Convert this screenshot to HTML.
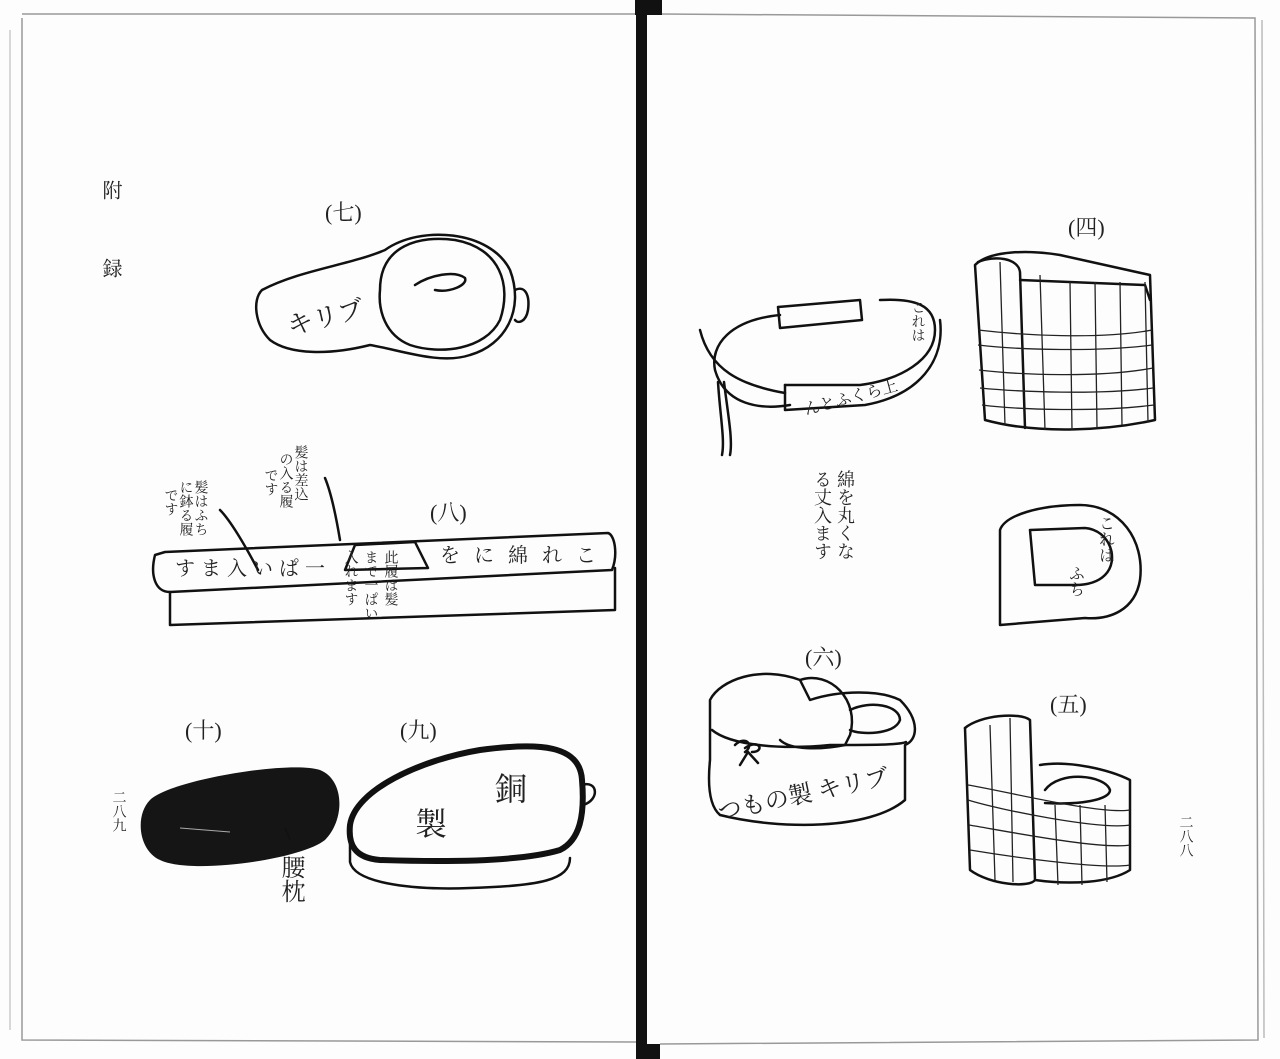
<!DOCTYPE html>
<html><head><meta charset="utf-8"><style>
html,body{margin:0;padding:0;background:#fff;}
svg{display:block}
text{font-family:"Liberation Serif","Noto Serif CJK SC","Noto Sans CJK JP",serif;fill:#222}
</style></head><body>
<svg width="1280" height="1059" viewBox="0 0 1280 1059" xmlns="http://www.w3.org/2000/svg">
<rect width="1280" height="1059" fill="#fdfdfd"/>
<g stroke="#999" fill="none" stroke-width="1.5">
<path d="M22 18 L22 1040 L636 1042"/>
<path d="M22 14 L636 14"/>
<path d="M660 14 L1255 18 L1258 1040 L660 1044"/>
<path d="M1262 20 L1264 1038" stroke="#bbb"/>
<path d="M10 30 L10 1030" stroke="#ccc"/>
</g>
<rect x="636" y="0" width="11" height="1059" fill="#111"/>
<rect x="635" y="0" width="27" height="15" fill="#111"/>
<rect x="640" y="1044" width="20" height="15" fill="#111"/>

<g stroke="#111" stroke-width="2.5" fill="none" stroke-linecap="round" stroke-linejoin="round">
<path d="M262 290 C300 270 350 265 385 250 C420 225 490 230 510 270 C525 310 505 345 470 355 C440 365 400 350 370 345 C330 355 290 355 270 340 C255 325 252 300 262 290Z"/>
<path d="M380 290 C380 245 420 235 455 240 C500 248 512 285 500 320 C485 350 440 355 410 345 C385 335 378 310 380 290Z"/>
<path d="M415 285 C430 275 455 270 465 278 C468 285 450 293 435 290"/>
<path d="M515 290 C525 285 530 295 528 310 C526 322 518 324 515 320"/>
<path d="M155 555 L165 552 L608 533 C615 535 618 555 612 570 L170 592 C155 592 150 575 155 555Z"/>
<path d="M170 592 L170 625 L615 610 L615 568"/>
<path d="M345 570 L355 545 L415 542 L428 568 Z"/>
<path d="M340 540 C335 510 330 490 325 478"/>
<path d="M258 570 C245 545 230 520 220 510"/>
<path d="M350 825 C355 790 420 760 480 750 C540 742 580 745 582 780 C585 815 580 840 560 850 C520 862 440 862 380 860 C355 858 348 845 350 825Z" stroke-width="6"/>
<path d="M350 830 L350 862 C355 885 420 890 470 888 C540 886 570 880 570 858"/>
<path d="M582 785 C598 780 600 800 583 805"/>
</g>
<path d="M150 800 C170 780 290 760 320 770 C345 780 345 820 325 840 C300 860 190 875 160 860 C138 850 135 815 150 800Z" fill="#151515"/>
<line x1="180" y1="828" x2="230" y2="832" stroke="#aaa" stroke-width="1"/>
<line x1="285" y1="828" x2="290" y2="840" stroke="#111" stroke-width="1.5"/>

<g stroke="#111" stroke-width="2.5" fill="none" stroke-linecap="round" stroke-linejoin="round">
<path d="M780 315 C730 320 710 345 715 370 C725 405 760 410 790 405"/>
<path d="M778 307 L860 300 L862 320 L780 328Z"/>
<path d="M785 385 L860 385 C900 380 935 360 935 330 C935 305 915 298 880 300"/>
<path d="M785 385 L785 410 L865 405 C920 395 945 360 940 320"/>
<path d="M718 382 C720 415 725 440 722 455"/>
<path d="M724 382 C728 415 733 440 730 455"/>
<path d="M700 330 C710 370 740 385 785 393"/>
<path d="M975 265 C990 250 1030 250 1060 255 L1150 275 L1155 420 C1110 430 1040 435 985 420 L975 265Z"/>
<path d="M978 262 C995 255 1018 258 1020 272 L1025 428"/>
<path d="M1020 280 L1145 285 L1150 300"/>
<path d="M1000 530 C1005 515 1040 505 1080 505 C1120 505 1145 540 1140 580 C1135 610 1110 620 1085 618 L1000 625 Z"/>
<path d="M1030 530 L1085 528 C1110 530 1120 560 1105 575 C1095 585 1080 585 1075 585 L1035 585 Z"/>
<path d="M710 700 C720 680 760 665 800 680 L810 700 C840 690 880 690 900 700 C920 720 918 740 905 745 L905 800 C870 830 780 830 720 815 C708 805 708 780 710 760 Z"/>
<path d="M800 680 C830 670 860 700 850 735 L845 745 C820 750 790 750 780 740"/>
<path d="M850 710 C870 700 900 705 900 720 C895 735 860 735 850 730"/>
<path d="M712 730 C730 745 780 750 830 745 C870 745 900 745 906 742"/>
<path d="M735 745 C745 735 755 745 745 752 M745 748 C760 738 765 752 752 752 M748 752 L740 765 M748 752 L758 763"/>
<path d="M965 728 C980 715 1020 712 1030 720 L1035 880 C1070 885 1110 883 1130 870 L1130 780 C1110 770 1070 760 1040 765"/>
<path d="M965 728 L970 870 C990 885 1030 888 1035 880"/>
<path d="M1045 790 C1060 770 1105 775 1110 790 C1110 800 1080 805 1045 803"/>
</g>
<g stroke="#222" stroke-width="1.3" fill="none">
<path d="M1000 262 L1005 425 M1040 275 L1045 430 M1070 282 L1072 430 M1095 282 L1097 428 M1120 282 L1122 425 M1145 282 L1148 422"/>
<path d="M978 330 C1020 335 1100 340 1152 330 M978 345 C1020 350 1100 352 1152 345 M979 370 C1020 375 1100 378 1153 368 M980 388 C1020 392 1100 395 1153 388 M982 405 C1020 410 1100 412 1154 405"/>
<path d="M990 725 L995 880 M1010 718 L1013 882 M1055 805 L1058 885 M1080 805 L1082 885 M1105 805 L1107 882"/>
<path d="M968 785 C1000 790 1100 815 1130 810 M968 800 C1000 810 1100 830 1130 825 M969 825 C1000 830 1100 850 1130 845 M970 850 C1000 855 1100 870 1130 865"/>
</g>

<text x="325" y="220" font-size="22">(七)</text>
<text x="430" y="520" font-size="22">(八)</text>
<text x="185" y="738" font-size="22">(十)</text>
<text x="400" y="738" font-size="22">(九)</text>
<text x="1068" y="235" font-size="22">(四)</text>
<text x="805" y="665" font-size="22">(六)</text>
<text x="1050" y="712" font-size="22">(五)</text>
<text x="286" y="325" font-size="26" transform="rotate(-14 330 315)">キリブ</text>
<text x="175" y="575" font-size="20" letter-spacing="6">すま入いぱ一</text>
<text x="440" y="562" font-size="20" letter-spacing="14">をに綿れこ</text>
<text x="495" y="800" font-size="32">銅</text>
<text x="415" y="835" font-size="32">製</text>
<text x="715" y="805" font-size="24" transform="rotate(-12 790 790)">つもの製 キリブ</text>
<g font-size="20">
<text x="110" y="180" style="writing-mode:vertical-rl">附</text>
<text x="110" y="258" style="writing-mode:vertical-rl">録</text>
<text x="290" y="855" font-size="24" style="writing-mode:vertical-rl">腰枕</text>
<text x="845" y="470" font-size="18" style="writing-mode:vertical-rl">綿を丸くな</text>
<text x="822" y="470" font-size="18" style="writing-mode:vertical-rl">る丈入ます</text>
<text x="1105" y="515" font-size="16" style="writing-mode:vertical-rl">これは</text>
<text x="1075" y="565" font-size="16" style="writing-mode:vertical-rl">ふち</text>
<text x="917" y="300" font-size="14" style="writing-mode:vertical-rl">これは</text>
<text x="118" y="790" font-size="14" style="writing-mode:vertical-rl">二八九</text>
<text x="1185" y="815" font-size="14" style="writing-mode:vertical-rl">二八八</text>
<text x="200" y="480" font-size="14" style="writing-mode:vertical-rl">髪はふち</text>
<text x="185" y="480" font-size="14" style="writing-mode:vertical-rl">に鉢る履</text>
<text x="170" y="488" font-size="14" style="writing-mode:vertical-rl">です</text>
<text x="300" y="445" font-size="14" style="writing-mode:vertical-rl">髪は差込</text>
<text x="285" y="452" font-size="14" style="writing-mode:vertical-rl">の入る履</text>
<text x="270" y="468" font-size="14" style="writing-mode:vertical-rl">です</text>
<text x="390" y="550" font-size="14" style="writing-mode:vertical-rl">此履は髪</text>
<text x="370" y="550" font-size="14" style="writing-mode:vertical-rl">まで一ぱい</text>
<text x="350" y="550" font-size="14" style="writing-mode:vertical-rl">入れます</text>
</g>
<text x="800" y="400" font-size="16" transform="rotate(-15 860 385)">んとふくら上</text>
</svg>
</body></html>
